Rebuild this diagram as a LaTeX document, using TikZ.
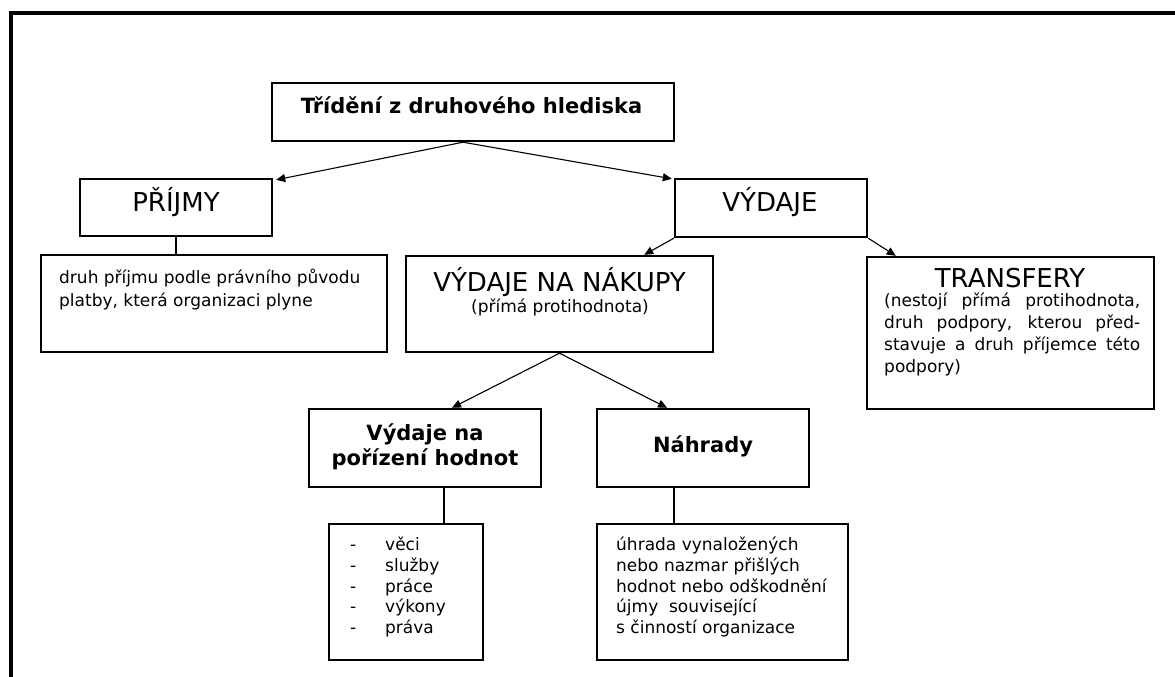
\documentclass[tikz,border=0pt]{standalone}
\usepackage{fontspec}
\setmainfont{DejaVu Sans}
\usetikzlibrary{arrows.meta,calc}
\begin{document}
\begin{tikzpicture}[x=1pt,y=-1pt,
  box/.style 2 args={draw,line width=2.4pt,inner sep=0pt,minimum width=#1pt,minimum height=#2pt},
  conn/.style={line width=1.1pt},
  arr/.style={line width=1.1pt,-{Triangle[length=9pt,width=8pt]}},
  ttl/.style={inner sep=0pt,anchor=base,font=\fontsize{26}{30}\selectfont},
  bld/.style={inner sep=0pt,anchor=base,font=\fontsize{21}{25}\selectfont\bfseries},
  sm/.style={inner sep=0pt,anchor=base west,font=\fontsize{17}{21}\selectfont},
  smc/.style={inner sep=0pt,anchor=base,font=\fontsize{17}{21}\selectfont}]
\useasboundingbox (0,0) rectangle (1175,677);
\fill[white] (0,0) rectangle (1175,677);
% outer frame
\draw[line width=4pt,line join=miter] (11,677) -- (11,13) -- (1175,13);

% boxes
\node[box={402}{58}] (top) at (473,112) {};
\node[box={192}{57}] (prijmy) at (176,207.5) {};
\node[box={192}{58}] (vydaje) at (771,208) {};
\node[box={346}{97}] (druh) at (214,303.5) {};
\node[box={307}{96}] (nakupy) at (559.5,304) {};
\node[box={287}{152}] (transfery) at (1010.5,333) {};
\node[box={232}{78}] (vydpor) at (425,448) {};
\node[box={212}{78}] (nahrady) at (703,448) {};
\node[box={154}{136}] (seznam) at (406,592) {};
\node[box={251}{136}] (uhrada) at (722.5,592) {};

% texts
\node[bld] (ttop) at (471.5,113) {Třídění z druhového hlediska};
\node[ttl] (tprijmy) at (176,211) {PŘÍJMY};
\node[ttl] (tvydaje) at (770,211) {VÝDAJE};
\node[sm] (tdruh1) at (59,283) {druh příjmu podle právního původu};
\node[sm] (tdruh2) at (59,306) {platby, která organizaci plyne};
\node[ttl] (tnak1) at (559.5,291) {VÝDAJE NA NÁKUPY};
\node[smc] (tnak2) at (560,312) {(přímá protihodnota)};
\node[ttl] (ttr) at (1010,287) {TRANSFERY};
\node[sm] (ttr1) at (884,306) {\makebox[256pt][s]{(nestojí přímá protihodnota,}};
\node[sm] (ttr2) at (884,328) {\makebox[256pt][s]{druh podpory, kterou před-}};
\node[sm] (ttr3) at (884,350) {\makebox[256pt][s]{stavuje a druh příjemce této}};
\node[sm] (ttr4) at (884,372) {podpory)};
\node[bld] (tvp1) at (425,440) {Výdaje na};
\node[bld] (tvp2) at (425,465) {pořízení hodnot};
\node[bld] (tnah) at (703,452) {Náhrady};
\node[sm] (ts1) at (350,550) {\makebox[35pt][l]{-}věci};
\node[sm] (ts2) at (350,571) {\makebox[35pt][l]{-}služby};
\node[sm] (ts3) at (350,592) {\makebox[35pt][l]{-}práce};
\node[sm] (ts4) at (350,612) {\makebox[35pt][l]{-}výkony};
\node[sm] (ts5) at (350,633) {\makebox[35pt][l]{-}práva};
\node[sm] (tu1) at (616,550) {úhrada vynaložených};
\node[sm] (tu2) at (616,571) {nebo nazmar přišlých};
\node[sm] (tu3) at (616,592) {hodnot nebo odškodnění};
\node[sm] (tu4) at (616,612) {újmy\ \ související};
\node[sm] (tu5) at (616,633) {s činností organizace};

% connectors
\draw[arr] ([xshift=-10pt]top.south) -- ([xshift=3pt,yshift=-2pt]prijmy.north east);
\draw[arr] ([xshift=-10pt]top.south) -- ([xshift=-2pt,yshift=-1pt]vydaje.north west);
\draw[arr] (vydaje.south west) -- ([xshift=-70pt]nakupy.north east);
\draw[arr] (vydaje.south east) -- ([xshift=30pt]transfery.north west);
\draw[arr] (nakupy.south) -- ([xshift=27pt]vydpor.north);
\draw[arr] (nakupy.south) -- ([xshift=-36pt]nahrady.north);
\draw[conn] (prijmy.south) -- (prijmy.south |- druh.north);
\draw[conn] ([xshift=19pt]vydpor.south) -- ([xshift=19pt]vydpor.south |- seznam.north);
\draw[conn] ([xshift=-29pt]nahrady.south) -- ([xshift=-29pt]nahrady.south |- uhrada.north);
\end{tikzpicture}
\end{document}
